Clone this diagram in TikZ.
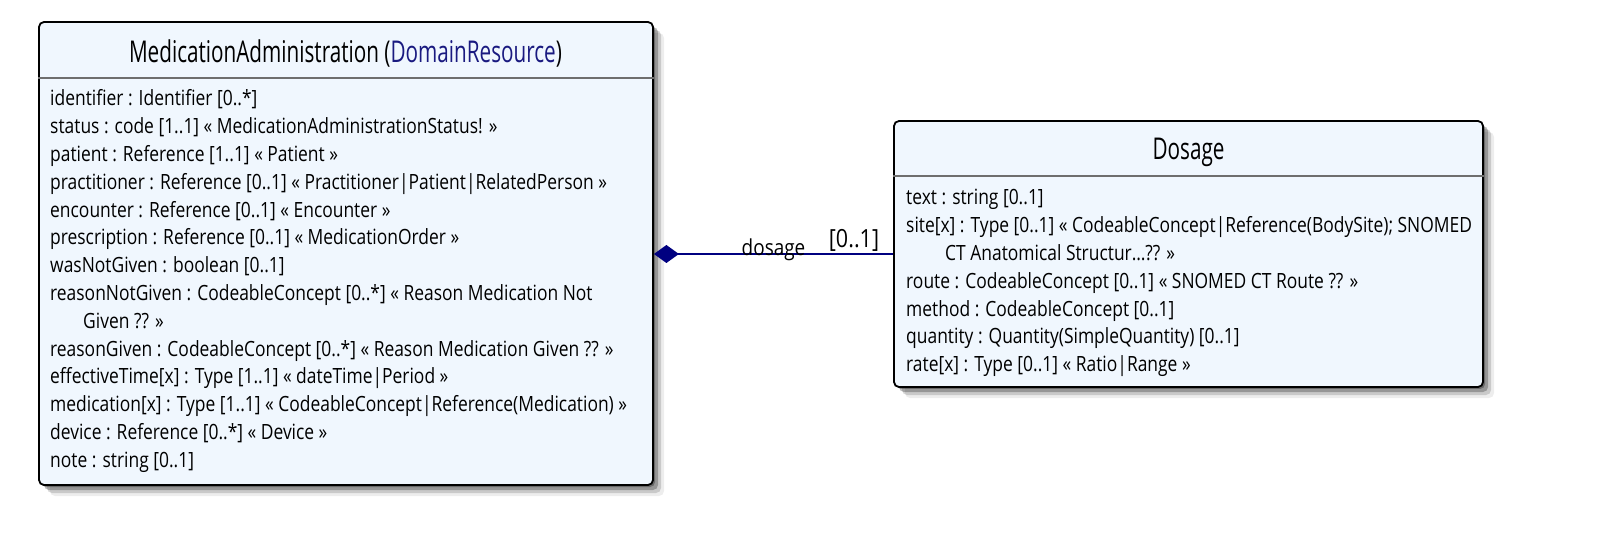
\documentclass[tikz,border=0pt]{standalone}
\usepackage{fontspec}
\setmainfont{Open Sans}
\newfontfamily\bodyfont{Open Sans}[FakeStretch=0.83]
\newfontfamily\titlefont{Open Sans}[FakeStretch=0.69]
\newfontfamily\labelfont{Open Sans}[FakeStretch=0.86]
\usetikzlibrary{arrows.meta,shadows}
\definecolor{boxfill}{HTML}{F0F7FE}
\definecolor{sepgray}{HTML}{6E6E6E}
\definecolor{assoc}{HTML}{000080}
\definecolor{typeblue}{HTML}{1A1A80}
\tikzset{
  umlbox/.style={draw=black, line width=1.8pt, rounded corners=5pt, fill=boxfill, inner sep=0pt,
    drop shadow={shadow xshift=2pt,shadow yshift=-2pt,opacity=0.3,fill=black},
    drop shadow={shadow xshift=5pt,shadow yshift=-5pt,opacity=0.25,fill=black},
    drop shadow={shadow xshift=8pt,shadow yshift=-8pt,opacity=0.15,fill=black},
    drop shadow={shadow xshift=11pt,shadow yshift=-11pt,opacity=0.07,fill=black}},
  sepline/.style={draw=sepgray, line width=2pt},
  titletext/.style={inner sep=0pt, anchor=base, font=\titlefont\fontsize{30}{36}\selectfont},
  attr/.style={inner sep=0pt, anchor=base west, font=\bodyfont\fontsize{21}{27.8}\selectfont},
  conn/.style={draw=assoc, line width=2pt},
  rolelabel/.style={inner sep=0pt, anchor=base, font=\labelfont\fontsize{22}{26}\selectfont},
  multlabel/.style={inner sep=0pt, anchor=base, font=\labelfont\fontsize{25}{30}\selectfont}
}
\begin{document}
\begin{tikzpicture}[x=1pt,y=-1pt]
\fill[white] (0,0) rectangle (1598,534);
\path[use as bounding box] (0,0) rectangle (1598,534);

% boxes
\node[umlbox, minimum width=614pt, minimum height=463pt] (ma) at (346,253.5) {};
\node[umlbox, minimum width=589pt, minimum height=266pt] (dos) at (1188.5,254) {};

% separators
\draw[sepline] (ma.west |- 0,78) -- (ma.east |- 0,78);
\draw[sepline] (dos.west |- 0,176) -- (dos.east |- 0,176);

% titles
\node[titletext] (ma-title) at (345.5,62.5) {MedicationAdministration (\textcolor{typeblue}{DomainResource})};
\node[titletext] (dos-title) at (1188.5,159.5) {Dosage};

% attributes
\foreach \t [count=\i] in {
  {identifier : Identifier [0..*]},
  {status : code [1..1] « MedicationAdministrationStatus! »},
  {patient : Reference [1..1] « Patient »},
  {practitioner : Reference [0..1] « Practitioner|Patient|RelatedPerson »},
  {encounter : Reference [0..1] « Encounter »},
  {prescription : Reference [0..1] « MedicationOrder »},
  {wasNotGiven : boolean [0..1]},
  {reasonNotGiven : CodeableConcept [0..*] « Reason Medication Not},
  {\hspace*{33pt}Given ?? »},
  {reasonGiven : CodeableConcept [0..*] « Reason Medication Given ?? »},
  {effectiveTime[x] : Type [1..1] « dateTime|Period »},
  {medication[x] : Type [1..1] « CodeableConcept|Reference(Medication) »},
  {device : Reference [0..*] « Device »},
  {note : string [0..1]}}
  \node[attr] (ma-\i) at (50,{106+27.8*(\i-1)}) {\t};

\foreach \t [count=\i] in {
  {text : string [0..1]},
  {site[x] : Type [0..1] « CodeableConcept|Reference(BodySite); SNOMED},
  {\hspace*{39pt}CT Anatomical Structur…?? »},
  {route : CodeableConcept [0..1] « SNOMED CT Route ?? »},
  {method : CodeableConcept [0..1]},
  {quantity : Quantity(SimpleQuantity) [0..1]},
  {rate[x] : Type [0..1] « Ratio|Range »}}
  \node[attr] (dos-\i) at (906,{205+27.8*(\i-1)}) {\t};

% association
\draw[conn, -{Diamond[length=25pt,width=18pt]}] (dos.west) -- (ma.east |- dos.west);
\node[rolelabel] (role) at (773.5,256) {dosage};
\node[multlabel] (mult) at (854,247.3) {[0..1]};
\end{tikzpicture}
\end{document}
